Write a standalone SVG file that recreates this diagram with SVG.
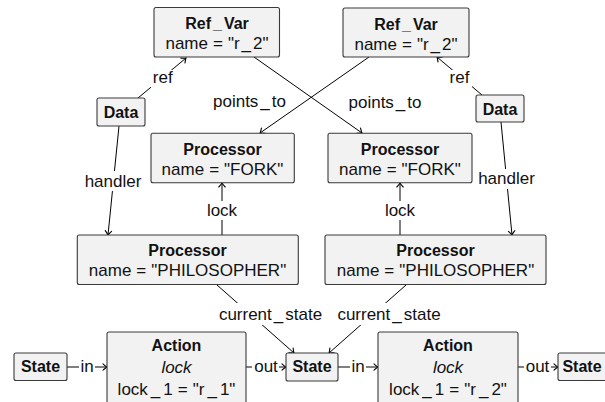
<svg xmlns="http://www.w3.org/2000/svg" width="605" height="402" viewBox="0 0 605 402">
<defs>
<marker id="arr" markerUnits="userSpaceOnUse" markerWidth="10" markerHeight="10" viewBox="-6 -5 8 10" refX="0" refY="0" orient="auto">
<path d="M-4,-3.2 Q-1.6,-0.9 0,0 Q-1.6,0.9 -4,3.2" fill="none" stroke="#000" stroke-width="1.1" stroke-linecap="round"/>
</marker>
<style>
.box{fill:#f2f2f2;stroke:#3a3a3a;stroke-width:1.1}
.b{font-family:"Liberation Sans",Arial,sans-serif;font-weight:bold;font-size:16px;text-anchor:middle;fill:#111}
.t{font-family:"Liberation Sans",Arial,sans-serif;font-size:17px;text-anchor:middle;fill:#111}
.i{font-style:italic}
.e{fill:none;stroke:#000;stroke-width:1}
.bg{fill:#fff}
</style>
</defs>
<rect width="605" height="402" fill="#fff"/>

<g id="connectors">
<path class="e" d="M138,98 L186,58" marker-end="url(#arr)"/>
<path class="e" d="M482,95 L437,57" marker-end="url(#arr)"/>
<path class="e" d="M254,57 L362,133" marker-end="url(#arr)"/>
<path class="e" d="M369,57 L260,133" marker-end="url(#arr)"/>
<path class="e" d="M119,126 L108,235" marker-end="url(#arr)"/>
<path class="e" d="M501,122 L512,235" marker-end="url(#arr)"/>
<path class="e" d="M222,235 L222,183" marker-end="url(#arr)"/>
<path class="e" d="M400,235 L400,183" marker-end="url(#arr)"/>
<path class="e" d="M217,285 L294,353" marker-end="url(#arr)"/>
<path class="e" d="M406,285 L329,353" marker-end="url(#arr)"/>
<path class="e" d="M67,367 L107,367" marker-end="url(#arr)"/>
<path class="e" d="M246,367 L286,367" marker-end="url(#arr)"/>
<path class="e" d="M338,367 L378,367" marker-end="url(#arr)"/>
<path class="e" d="M518,367 L558,367" marker-end="url(#arr)"/>

<rect class="bg" x="151" y="70" width="24" height="18"/>
<text class="t" x="162.7" y="83">ref</text>
<rect class="bg" x="448" y="70" width="24" height="18"/>
<text class="t" x="459.5" y="82.7">ref</text>
<text class="t" x="249.5" y="106.5">points<tspan dx="2">_</tspan><tspan dx="2">to</tspan></text>
<text class="t" x="385" y="107.5">points<tspan dx="2">_</tspan><tspan dx="2">to</tspan></text>
<rect class="bg" x="84" y="171" width="58" height="20"/>
<text class="t" x="113" y="186.7">handler</text>
<rect class="bg" x="477" y="169" width="58" height="20"/>
<text class="t" x="506.5" y="184.3">handler</text>
<rect class="bg" x="205" y="201" width="34" height="19"/>
<text class="t" x="222" y="216">lock</text>
<rect class="bg" x="383" y="201" width="34" height="19"/>
<text class="t" x="400" y="216">lock</text>
<rect class="bg" x="216" y="303" width="109" height="22"/>
<text class="t" x="270.5" y="320">current<tspan dx="2">_</tspan><tspan dx="2">state</tspan></text>
<rect class="bg" x="335" y="303" width="109" height="22"/>
<text class="t" x="389" y="320">current<tspan dx="2">_</tspan><tspan dx="2">state</tspan></text>
<rect class="bg" x="79" y="357" width="16" height="19"/>
<text class="t" x="87" y="372">in</text>
<rect class="bg" x="252" y="357" width="27" height="19"/>
<text class="t" x="266" y="372">out</text>
<rect class="bg" x="350" y="357" width="16" height="19"/>
<text class="t" x="358" y="372">in</text>
<rect class="bg" x="524" y="357" width="27" height="19"/>
<text class="t" x="537.5" y="372">out</text>
</g>

<g id="refvar1">
<rect class="box" x="154" y="7.5" width="125.5" height="49.5" rx="2"/>
<text class="b" x="217" y="29">Ref<tspan dx="2">_</tspan><tspan dx="2">Var</tspan></text>
<text class="t" x="217" y="49">name<tspan dx="5">=</tspan><tspan dx="5">"r</tspan><tspan dx="2">_</tspan><tspan dx="2">2"</tspan></text>
</g>
<g id="refvar2">
<rect class="box" x="343" y="8" width="126" height="49" rx="2"/>
<text class="b" x="406" y="29.5">Ref<tspan dx="2">_</tspan><tspan dx="2">Var</tspan></text>
<text class="t" x="406" y="49.5">name<tspan dx="5">=</tspan><tspan dx="5">"r</tspan><tspan dx="2">_</tspan><tspan dx="2">2"</tspan></text>
</g>
<g id="data1">
<rect class="box" x="97" y="98" width="48" height="28" rx="2"/>
<text class="b" x="121" y="118">Data</text>
</g>
<g id="data2">
<rect class="box" x="476" y="95" width="48" height="27" rx="2"/>
<text class="b" x="500" y="114.5">Data</text>
</g>
<g id="fork1">
<rect class="box" x="151" y="133.3" width="143.3" height="49.4" rx="2"/>
<text class="b" x="222.5" y="155">Processor</text>
<text class="t" x="222.5" y="175">name<tspan dx="5">=</tspan><tspan dx="5">"FORK"</tspan></text>
</g>
<g id="fork2">
<rect class="box" x="328" y="133.3" width="144" height="49.4" rx="2"/>
<text class="b" x="400" y="155">Processor</text>
<text class="t" x="400" y="175">name<tspan dx="5">=</tspan><tspan dx="5">"FORK"</tspan></text>
</g>
<g id="phil1">
<rect class="box" x="77.3" y="235" width="221" height="49.5" rx="2"/>
<text class="b" x="187.5" y="256">Processor</text>
<text class="t" x="187.5" y="276">name<tspan dx="5">=</tspan><tspan dx="5">"PHILOSOPHER"</tspan></text>
</g>
<g id="phil2">
<rect class="box" x="325" y="235" width="221" height="49.5" rx="2"/>
<text class="b" x="435.5" y="256">Processor</text>
<text class="t" x="435.5" y="276">name<tspan dx="5">=</tspan><tspan dx="5">"PHILOSOPHER"</tspan></text>
</g>
<g id="state1">
<rect class="box" x="14" y="353" width="53" height="27.5" rx="2"/>
<text class="b" x="40.5" y="372">State</text>
</g>
<g id="action1">
<rect class="box" x="107" y="332" width="139" height="80" rx="2"/>
<text class="b" x="176.5" y="351">Action</text>
<text class="t i" x="176.5" y="373">lock</text>
<text class="t" x="176.5" y="395">lock<tspan dx="3">_</tspan><tspan dx="3">1</tspan><tspan dx="5">=</tspan><tspan dx="5">"r</tspan><tspan dx="3">_</tspan><tspan dx="3">1"</tspan></text>
</g>
<g id="state2">
<rect class="box" x="286" y="353" width="52" height="28" rx="2"/>
<text class="b" x="312" y="372">State</text>
</g>
<g id="action2">
<rect class="box" x="378" y="332" width="140" height="80" rx="2"/>
<text class="b" x="448" y="351">Action</text>
<text class="t i" x="448" y="373">lock</text>
<text class="t" x="448" y="395">lock<tspan dx="3">_</tspan><tspan dx="3">1</tspan><tspan dx="5">=</tspan><tspan dx="5">"r</tspan><tspan dx="3">_</tspan><tspan dx="3">2"</tspan></text>
</g>
<g id="state3">
<rect class="box" x="558" y="353" width="53" height="27.5" rx="2"/>
<text class="b" x="582" y="372">State</text>
</g>
</svg>
